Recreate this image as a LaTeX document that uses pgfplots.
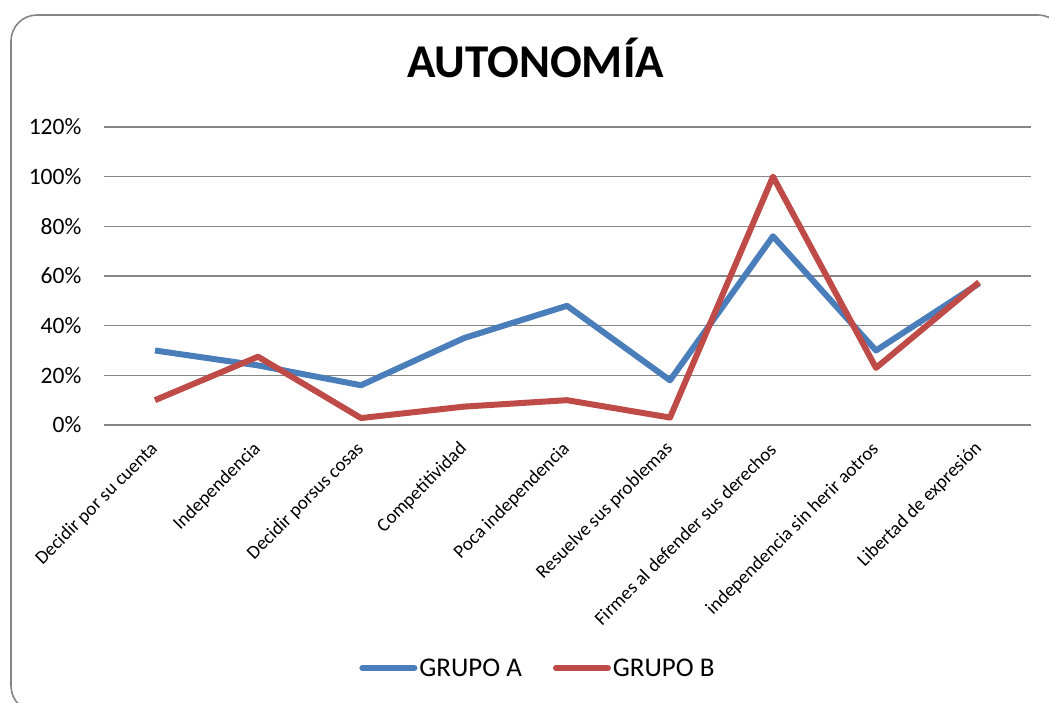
\documentclass[border=0pt]{standalone}
\usepackage{pgfplots}
\pgfplotsset{compat=1.18}
\usepackage{fontspec}
\setmainfont{Carlito}
\definecolor{serA}{HTML}{4A7EBB}
\definecolor{serB}{HTML}{BE4B48}
\definecolor{gridc}{HTML}{868686}
\begin{document}
\begin{tikzpicture}[x=1pt,y=1pt]
\useasboundingbox (0,0) rectangle (1049,702);
\draw[gridc, line width=1.6pt, rounded corners=26pt] (11,687) rectangle (1064,-10);
\node[anchor=base, font=\fontsize{47}{50}\selectfont\bfseries] at (535.5,624) {AUTONOMÍA};
\begin{axis}[
  at={(103.5pt,277pt)}, anchor=south west,
  scale only axis, width=927pt, height=298pt,
  xmin=-0.5, xmax=8.5, ymin=0, ymax=120,
  axis line style={draw=none},
  ymajorgrids, grid style={gridc, line width=1.6pt},
  ytick={0,20,...,120},
  xtick={0,...,8},
  major tick length=0pt,
  /pgf/number format/assume math mode=true,
  yticklabel={\pgfmathprintnumber{\tick}\%},
  yticklabel style={font=\fontsize{23.5}{25}\selectfont, inner sep=0pt, anchor=east, xshift=-22pt},
  xticklabels={Decidir por su cuenta, Independencia, Decidir porsus cosas, Competitividad, Poca independencia, Resuelve sus problemas, Firmes al defender sus derechos, independencia sin herir aotros, Libertad de expresión},
  xticklabel style={font=\fontsize{19}{21}\selectfont, inner sep=0pt, xshift=0pt, yshift=-21pt, rotate=45, anchor=east},
  clip=false,
  legend columns=2,
  legend style={at={(0.4687,-0.8154)}, anchor=center, draw=none, fill=none,
    font=\fontsize{27}{29}\selectfont, /tikz/every even column/.append style={column sep=29pt}},
  legend image code/.code={\draw[#1, line cap=round] (0pt,0pt) -- (52pt,0pt);},
]
\addplot[serA, line width=6pt, line join=round] coordinates {(0,30) (1,24) (2,16) (3,35) (4,48) (5,18) (6,76) (7,30) (8,57)};
\addlegendentry{GRUPO A}
\addplot[serB, line width=6pt, line join=round] coordinates {(0,10) (1,27.5) (2,2.8) (3,7.4) (4,10) (5,3) (6,100) (7,23) (8,57.5)};
\addlegendentry{GRUPO B}
\end{axis}
\end{tikzpicture}
\end{document}
